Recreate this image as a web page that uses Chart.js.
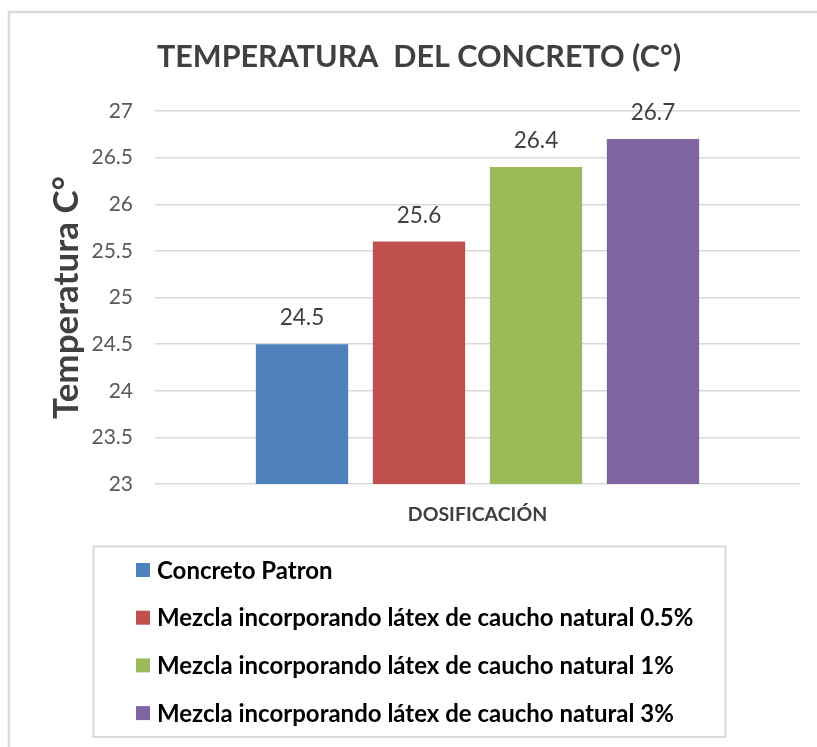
<!DOCTYPE html>
<html>
<head>
<meta charset="utf-8">
<script src="https://cdn.jsdelivr.net/npm/chart.js@4/dist/chart.umd.min.js"></script>
<style>
  html, body { margin: 0; padding: 0; background: #ffffff; overflow: hidden; }
  #wrap { width: 817px; height: 747px; position: relative; }
  canvas { display: block; }
</style>
</head>
<body>
<div id="wrap"><canvas id="c" width="817" height="747"></canvas></div>
<script>
// ---- data ----
const categories = ['DOSIFICACIÓN'];
const seriesNames = [
  'Concreto Patron',
  'Mezcla incorporando látex de caucho natural 0.5%',
  'Mezcla incorporando látex de caucho natural 1%',
  'Mezcla incorporando látex de caucho natural 3%'
];
const concretoPatron = [24.5];
const latex05 = [25.6];
const latex1 = [26.4];
const latex3 = [26.7];
const yMin = 23, yMax = 27, yStep = 0.5;

const seriesValues = [concretoPatron, latex05, latex1, latex3];
const seriesColors = ['#4F81BD', '#C0504D', '#9BBB59', '#8064A2'];

const FONT = 'Lato, "Open Sans", sans-serif';

const framePlugin = {
  id: 'frame',
  beforeDraw(chart) {
    const ctx = chart.ctx;
    ctx.save();
    ctx.fillStyle = '#ffffff';
    ctx.fillRect(0, 0, chart.width, chart.height);
    ctx.strokeStyle = '#d9d9d9';
    ctx.lineWidth = 2.5;
    ctx.strokeRect(9, 12, chart.width + 50, chart.height + 50);
    ctx.restore();
  }
};

const valueLabels = {
  id: 'valueLabels',
  afterDatasetsDraw(chart) {
    const ctx = chart.ctx;
    ctx.save();
    ctx.font = '22.5px ' + FONT;
    ctx.fillStyle = '#404040';
    ctx.textAlign = 'center';
    ctx.textBaseline = 'alphabetic';
    chart.data.datasets.forEach((ds, i) => {
      const meta = chart.getDatasetMeta(i);
      meta.data.forEach((bar, j) => {
        ctx.fillText(String(ds.data[j]), bar.x, bar.y - 19);
      });
    });
    ctx.restore();
  }
};

const boxLegend = {
  id: 'boxLegend',
  afterDraw(chart) {
    const ctx = chart.ctx;
    const box = { left: 93.5, top: 546.5, right: 725.5, bottom: 737 };
    ctx.save();
    ctx.strokeStyle = '#d9d9d9';
    ctx.lineWidth = 2;
    ctx.strokeRect(box.left, box.top, box.right - box.left, box.bottom - box.top);
    const rowStart = 570, rowGap = 47.7;
    ctx.font = 'bold 24px ' + FONT;
    ctx.textAlign = 'left';
    ctx.textBaseline = 'middle';
    chart.data.datasets.forEach((ds, i) => {
      const y = rowStart + i * rowGap;
      ctx.fillStyle = ds.backgroundColor;
      ctx.fillRect(136, y - 7, 14, 14);
      ctx.fillStyle = '#000000';
      ctx.fillText(ds.label, 157, y + 1);
    });
    ctx.restore();
  }
};

new Chart(document.getElementById('c'), {
  type: 'bar',
  data: {
    labels: categories,
    datasets: seriesNames.map((name, i) => ({
      label: name,
      data: seriesValues[i],
      backgroundColor: seriesColors[i],
      borderWidth: 0,
      categoryPercentage: 0.7256,
      barPercentage: 0.789
    }))
  },
  options: {
    responsive: false,
    animation: false,
    layout: { padding: { top: 12, left: 38, right: 17, bottom: 218 } },
    plugins: {
      legend: { display: false },
      tooltip: { enabled: false },
      title: {
        display: true,
        text: 'TEMPERATURA  DEL CONCRETO (C°)',
        color: '#404040',
        font: { family: FONT, size: 30.5, weight: 'bold', lineHeight: 1.2 },
        padding: { top: 26.5, bottom: 35.9 }
      }
    },
    scales: {
      x: {
        grid: { display: false, drawTicks: false },
        border: { display: false },
        ticks: {
          color: '#404040',
          padding: 19,
          font: { family: FONT, size: 19.5, weight: 'bold' }
        },
        afterFit(scale) { scale.height = 45; }
      },
      y: {
        min: yMin,
        max: yMax,
        grid: { color: '#d9d9d9', lineWidth: 1.5, drawTicks: false },
        border: { display: false },
        ticks: {
          stepSize: yStep,
          color: '#595959',
          padding: 22,
          font: { family: FONT, size: 21 },
          callback: v => String(v)
        },
        title: {
          display: true,
          text: 'Temperatura C°',
          color: '#404040',
          font: { family: FONT, size: 35, weight: 'bold', lineHeight: 1.0 },
          padding: { top: 11.5, bottom: 0 }
        },
        afterFit(scale) { scale.width = 117; }
      }
    }
  },
  plugins: [framePlugin, valueLabels, boxLegend]
});
</script>
</body>
</html>
